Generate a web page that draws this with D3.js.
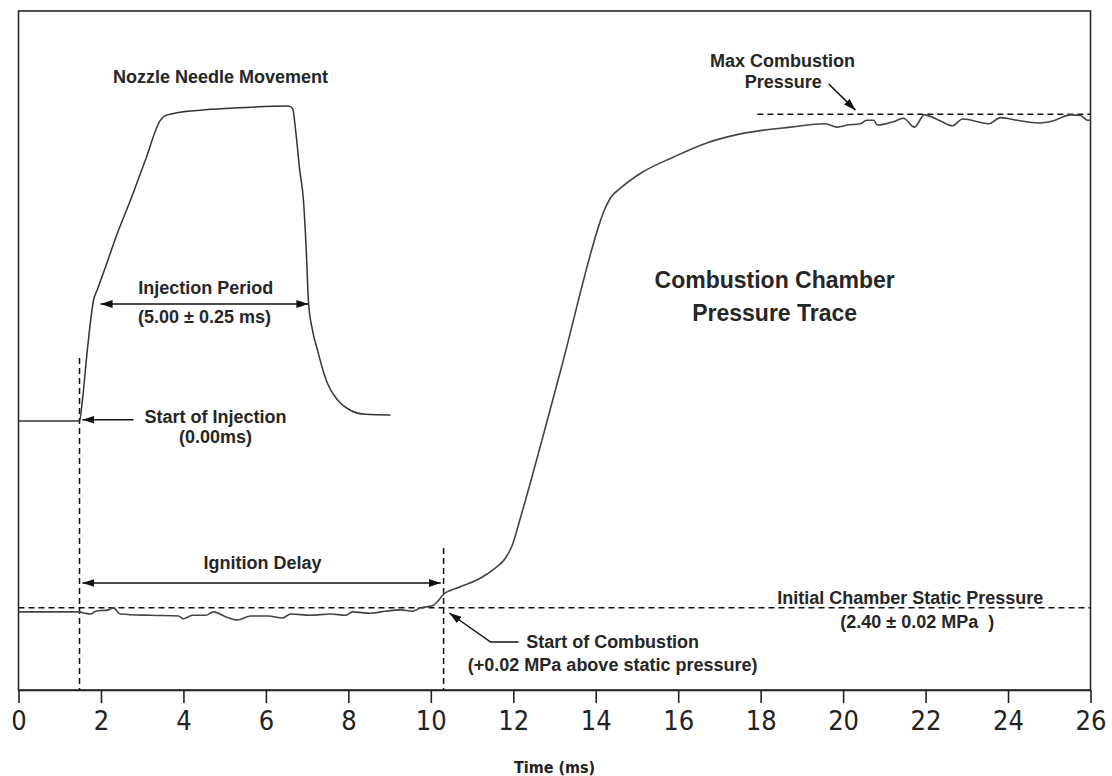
<!DOCTYPE html>
<html>
<head>
<meta charset="utf-8">
<script src="https://cdn.jsdelivr.net/npm/d3@7"></script>
<style>
body { margin: 0; background: #fff; }
.note { font-family: "Liberation Sans", Arial, sans-serif; font-weight: bold; font-size: 18px; fill: #262626; white-space: pre; }
.axis text { font-family: "Liberation Sans Narrow", "DejaVu Sans Condensed", sans-serif; font-size: 27px; fill: #222; }
</style>
</head>
<body>
<div id="chart"></div>
<script>
// time axis ticks (ms)
var xTicks = [0, 2, 4, 6, 8, 10, 12, 14, 16, 18, 20, 22, 24, 26];

// nozzle needle lift, [time ms, relative level]
var needleTrace = [[0,39.6],[1.48,39.6],[1.55,42.7],[1.67,50.1],[1.82,57.4],[1.92,59.1],[2.11,62.3],[2.40,67.3],
  [2.72,72.2],[3.08,78.1],[3.44,83.9],[3.61,84.7],[4.41,85.4],[5.21,85.7],[6.55,86.0],[6.65,85.6],[6.72,82.5],
  [6.82,76.6],[6.91,72.2],[6.99,63.3],[7.03,57.4],[7.13,53.0],[7.25,50.1],[7.37,47.4],[7.49,45.2],[7.74,42.7],
  [8.05,41.2],[8.42,40.6],[9.02,40.5]];

// combustion chamber pressure, [time ms, relative level]
var pressureTrace = [[0,11.5],[1.48,11.5],[1.62,11.3],[1.75,11.2],[1.87,11.6],[2.18,11.8],[2.30,12.1],[2.47,11.2],
  [3.20,11.0],[3.88,10.9],[4.00,10.5],[4.22,11.0],[4.54,11.0],[4.73,11.5],[5.02,10.8],[5.31,10.3],[5.63,10.9],
  [6.06,10.9],[6.40,10.6],[6.60,11.2],[7.08,11.0],[7.57,11.2],[7.93,11.0],[8.10,11.5],[8.54,11.3],[8.90,11.6],
  [9.27,11.8],[9.56,11.6],[9.75,12.1],[10.04,12.4],[10.16,13.0],[10.31,14.1],[10.72,15.2],[11.21,16.5],
  [11.57,18.0],[11.81,19.4],[11.98,21.4],[12.18,25.5],[13.15,47.1],[14.12,69.2],[14.19,70.4],[14.36,72.5],
  [14.60,73.9],[15.09,76.1],[15.89,78.5],[16.71,80.6],[17.51,81.9],[18.72,82.9],[19.57,83.4],[19.86,82.9],
  [20.11,83.2],[20.42,83.4],[20.57,83.9],[20.74,83.9],[20.83,83.2],[21.22,83.7],[21.46,84.2],[21.73,82.9],
  [21.97,84.7],[22.36,83.8],[22.65,83.1],[22.90,84.1],[23.53,83.4],[23.82,84.3],[24.23,83.9],[24.72,83.5],
  [25.08,83.8],[25.52,84.7],[25.76,84.6],[25.93,83.9],[26.0,83.9]];

var injectionStart = 1.48;   // ms
var combustionStart = 10.31; // ms
var staticLevel = 12.1;
var maxLevel = 84.8;
var maxLineFrom = 17.92;

(function(){
  var width = 1112, height = 776;
  var svg = d3.select('#chart')
    .append('svg')
    .attr('width', width)
    .attr('height', height);

  var x = d3.scaleLinear().domain([0, 26]).range([18.5, 1090.5]);
  var y = d3.scaleLinear().domain([0, 100]).range([690, 11]);

  var defs = svg.append('defs');
  defs.append('marker')
    .attr('id', 'arrow')
    .attr('markerUnits', 'userSpaceOnUse')
    .attr('markerWidth', 13).attr('markerHeight', 9)
    .attr('refX', 12).attr('refY', 4)
    .attr('orient', 'auto-start-reverse')
    .append('path')
    .attr('d', 'M0,0 L12,4 L0,8 Z')
    .attr('fill', '#111');

  // frame
  svg.append('rect')
    .attr('x', x(0)).attr('y', y(100))
    .attr('width', x(26) - x(0)).attr('height', y(0) - y(100))
    .attr('fill', 'none').attr('stroke', '#2a2a2a').attr('stroke-width', 1.6);

  // axis
  var axis = svg.append('g')
    .attr('class', 'axis')
    .attr('transform', 'translate(0,' + y(0) + ')')
    .call(d3.axisBottom(x).tickValues(xTicks).tickSize(13).tickSizeOuter(0).tickPadding(8));
  axis.selectAll('path, line').attr('stroke', '#222').attr('stroke-width', 1.6);

  svg.append('text')
    .attr('x', x(13)).attr('y', 773)
    .attr('text-anchor', 'middle')
    .style('font-family', '"Liberation Sans Narrow", "DejaVu Sans Condensed", sans-serif')
    .style('font-weight', 'bold').style('font-size', '16px').style('fill', '#222')
    .text('Time (ms)');

  // reference dashed lines
  function dashed(x1, y1, x2, y2){
    svg.append('line')
      .attr('x1', x(x1)).attr('y1', y(y1)).attr('x2', x(x2)).attr('y2', y(y2))
      .attr('stroke', '#111').attr('stroke-width', 1.5)
      .attr('stroke-dasharray', '6,4');
  }
  dashed(0, staticLevel, 26, staticLevel);
  dashed(maxLineFrom, maxLevel, 26, maxLevel);
  dashed(injectionStart, 48.9, injectionStart, 0);
  dashed(combustionStart, 20.9, combustionStart, 0);

  // traces
  var line = d3.line()
    .x(function(d){ return x(d[0]); })
    .y(function(d){ return y(d[1]); })
    .curve(d3.curveMonotoneX);

  svg.append('path').datum(needleTrace)
    .attr('d', line).attr('fill', 'none')
    .attr('stroke', '#333').attr('stroke-width', 1.5);
  svg.append('path').datum(pressureTrace)
    .attr('d', line).attr('fill', 'none')
    .attr('stroke', '#444').attr('stroke-width', 1.6);

  // arrows
  function arrow(pts, both){
    var p = svg.append('path')
      .attr('d', d3.line().x(function(d){ return x(d[0]); }).y(function(d){ return y(d[1]); })(pts))
      .attr('fill', 'none').attr('stroke', '#111').attr('stroke-width', 1.5)
      .attr('marker-end', 'url(#arrow)');
    if (both) p.attr('marker-start', 'url(#arrow)');
  }
  arrow([[1.99, 56.85], [7.03, 56.85]], true);           // injection period
  arrow([[2.79, 39.8], [1.55, 39.8]], false);           // start of injection
  arrow([[1.55, 15.76], [10.24, 15.76]], true);         // ignition delay
  arrow([[12.13, 7.07], [11.45, 7.07], [10.45, 11.34]], false); // start of combustion
  arrow([[19.65, 89.25], [20.30, 85.4]], false);        // max pressure

  // annotation text
  var notes = [
    { t: 'Nozzle Needle Movement', x: 4.90, y: 89.4 },
    { t: 'Injection Period', x: 4.54, y: 58.3 },
    { t: '(5.00 ± 0.25 ms)', x: 4.51, y: 54.1 },
    { t: 'Start of Injection', x: 4.78, y: 39.3 },
    { t: '(0.00ms)', x: 4.78, y: 36.4 },
    { t: 'Ignition Delay', x: 5.92, y: 17.8 },
    { t: 'Start of Combustion', x: 14.41, y: 6.2 },
    { t: '(+0.02 MPa above static pressure)', x: 14.41, y: 2.8 },
    { t: 'Initial Chamber Static Pressure', x: 21.63, y: 12.7 },
    { t: '(2.40 ± 0.02 MPa  )', x: 21.80, y: 9.1 },
    { t: 'Max Combustion', x: 18.53, y: 91.8 },
    { t: 'Pressure', x: 18.55, y: 88.6 },
    { t: 'Combustion Chamber', x: 18.34, y: 59.2, big: true },
    { t: 'Pressure Trace', x: 18.34, y: 54.4, big: true }
  ];
  svg.selectAll('.note')
    .data(notes)
    .enter().append('text')
    .attr('class', 'note')
    .attr('x', function(d){ return x(d.x); })
    .attr('y', function(d){ return y(d.y); })
    .attr('text-anchor', 'middle')
    .style('font-size', function(d){ return d.big ? '23px' : '18px'; })
    .text(function(d){ return d.t; });
})();
</script>
</body>
</html>
